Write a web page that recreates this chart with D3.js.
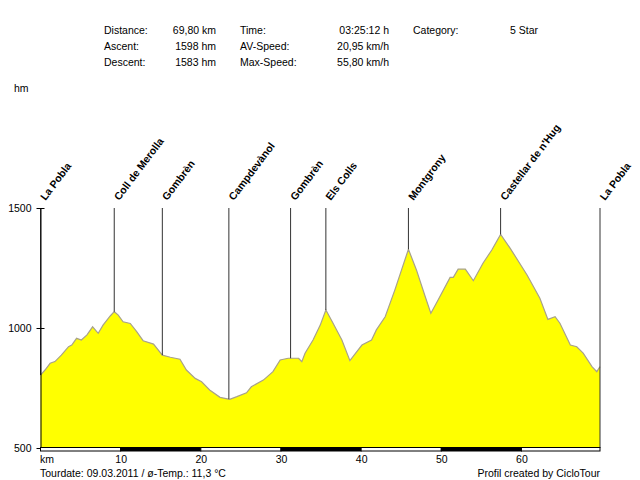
<!DOCTYPE html>
<html>
<head>
<meta charset="utf-8">
<script src="https://cdn.jsdelivr.net/npm/d3@7"></script>
<style>
  body { margin: 0; background: #fff; }
  svg text { font-family: Arial, "Liberation Sans", sans-serif; fill: #000; }
  .info { font-size: 10.5px; }
  .wp { font-size: 10.5px; font-weight: bold; }
  .tick text { font-size: 10.5px; }
</style>
</head>
<body>
<div id="chart"></div>
<script>
// profile data (km / hm)
const km = [0, 0.56, 1.2, 1.8, 2.6, 3.5, 3.9, 4.5, 5.1, 5.8, 6.5, 7.2, 7.8, 8.7, 9.2, 9.7, 10.3, 11.2, 12.0, 12.8,
  14.1, 15.2, 16.2, 17.4, 18.2, 19.3, 20.1, 21.1, 22.4, 23.6, 24.5, 25.7, 26.3, 27.8, 29.0, 29.9, 30.9, 32.2, 32.6, 33.0,
  34.0, 34.9, 35.6, 36.5, 37.6, 38.6, 40.1, 41.3, 41.9, 43.0, 44.2, 45.9, 46.9, 48.0, 48.7, 49.6, 51.1, 51.5, 52.1, 53.0,
  54.0, 55.2, 56.3, 57.4, 58.6, 60.7, 62.3, 63.3, 64.2, 64.8, 66.1, 66.9, 67.7, 68.8, 69.4, 69.8];
const elev = [804, 825, 853, 860, 887, 922, 929, 957, 950, 971, 1005, 978, 1012, 1050, 1068, 1054, 1026, 1019, 985, 947,
  933, 887, 878, 870, 825, 790, 776, 742, 711, 703, 714, 730, 755, 783, 818, 867, 874, 874, 860, 895,
  950, 1012, 1075, 1020, 950, 864, 929, 950, 992, 1047, 1158, 1328, 1242, 1130, 1061, 1117, 1211, 1211, 1245, 1245,
  1197, 1270, 1325, 1390, 1332, 1221, 1124, 1036, 1047, 1020, 929, 922, 895, 839, 818, 839];

const wpNames = ["La Pobla", "Coll de Merolla", "Gombrèn", "Campdevànol", "Gombrèn", "Els Colls", "Montgrony", "Castellar de n'Hug", "La Pobla"];
const wpKm = [0, 9.2, 15.2, 23.5, 31.2, 35.6, 45.9, 57.4, 69.8];

const yTicks = [500, 1000, 1500];
const xTicks = [0, 10, 20, 30, 40, 50, 60];
const totalKm = 69.8;

const infoLabels = [["Distance:", "Ascent:", "Descent:"], ["Time:", "AV-Speed:", "Max-Speed:"], ["Category:"]];
const infoValues = [["69,80 km", "1598 hm", "1583 hm"], ["03:25:12 h", "20,95 km/h", "55,80 km/h"], ["5 Star"]];

const width = 640;
const height = 480;

const svg = d3.select('div#chart').append('svg').attr('width', width).attr('height', height);

const x = d3.scaleLinear().domain([0, totalKm]).range([40.5, 600]);
const y = d3.scaleLinear().domain([500, 1500]).range([448, 208]);

// header
const labelX = [104, 240, 413];
const valueX = [216, 389, 510];
infoLabels.forEach((col, i) => {
  col.forEach((t, j) => {
    svg.append('text').attr('class', 'info').attr('x', labelX[i]).attr('y', 34 + j * 16).text(t);
    svg.append('text').attr('class', 'info').attr('x', valueX[i]).attr('y', 34 + j * 16)
      .attr('text-anchor', i === 2 ? 'start' : 'end').text(infoValues[i][j]);
  });
});
svg.append('text').attr('class', 'info').attr('x', 14).attr('y', 92).text('hm');

// profile
const pts = km.map((k, i) => ({ km: k, hm: elev[i] }));
svg.append('path').datum(pts)
  .attr('fill', '#ffff00')
  .attr('d', d3.area().x(d => x(d.km)).y0(y(500)).y1(d => y(d.hm)));
svg.append('path').datum(pts)
  .attr('fill', 'none').attr('stroke', '#a8a28a').attr('stroke-width', 1.2)
  .attr('d', d3.line().x(d => x(d.km)).y(d => y(d.hm)));

// waypoints
const hmAt = k => {
  const i = Math.max(1, d3.bisectLeft(km, k));
  if (i >= km.length) return elev[elev.length - 1];
  const t = (k - km[i - 1]) / (km[i] - km[i - 1]);
  return elev[i - 1] + t * (elev[i] - elev[i - 1]);
};
const wpGroup = svg.append('g');
wpKm.forEach((k, i) => {
  const last = i === wpKm.length - 1;
  wpGroup.append('line')
    .attr('x1', x(k)).attr('x2', x(k))
    .attr('y1', y(1500)).attr('y2', last ? y(500) : y(hmAt(k)))
    .attr('stroke', '#333').attr('stroke-width', 1);
  wpGroup.append('text').attr('class', 'wp')
    .attr('transform', `translate(${x(k) + 5},${201}) rotate(-53)`)
    .text(wpNames[i]);
});

// y axis
const yAxisGroup = svg.append('g').attr('transform', `translate(${x(0)},0)`)
  .call(d3.axisLeft(y).tickValues(yTicks).tickFormat(d3.format('d')).tickSize(4).tickSizeOuter(0).tickPadding(6));
yAxisGroup.select('.domain').attr('stroke', '#000');
yAxisGroup.selectAll('.tick line').attr('x1', 4).attr('x2', -4);
yAxisGroup.selectAll('.tick text').attr('x', -9);

// km band
const bands = d3.range(0, 7).map(i => [i * 10, Math.min((i + 1) * 10, totalKm)]);
svg.append('g').selectAll('rect').data(bands).enter().append('rect')
  .attr('x', d => x(d[0]))
  .attr('y', y(500) - 0.5)
  .attr('width', d => x(d[1]) - x(d[0]))
  .attr('height', 3.5)
  .attr('fill', (d, i) => i % 2 ? '#000' : '#fff')
  .attr('stroke', '#000').attr('stroke-width', 1);

const xAxisGroup = svg.append('g').attr('transform', `translate(0,${y(500) + 4})`)
  .call(d3.axisBottom(x).tickValues(xTicks).tickSize(0).tickPadding(4).tickFormat(d => d === 0 ? 'km' : d));
xAxisGroup.select('.domain').remove();
xAxisGroup.selectAll('.tick text').filter(d => d === 0).attr('text-anchor', 'start').attr('x', -1);

// footer
svg.append('text').attr('class', 'info').attr('x', 40).attr('y', 477)
  .text('Tourdate: 09.03.2011  /  ø-Temp.: 11,3 °C');
svg.append('text').attr('class', 'info').attr('x', 600).attr('y', 477).attr('text-anchor', 'end')
  .text('Profil created by CicloTour');
</script>
</body>
</html>
